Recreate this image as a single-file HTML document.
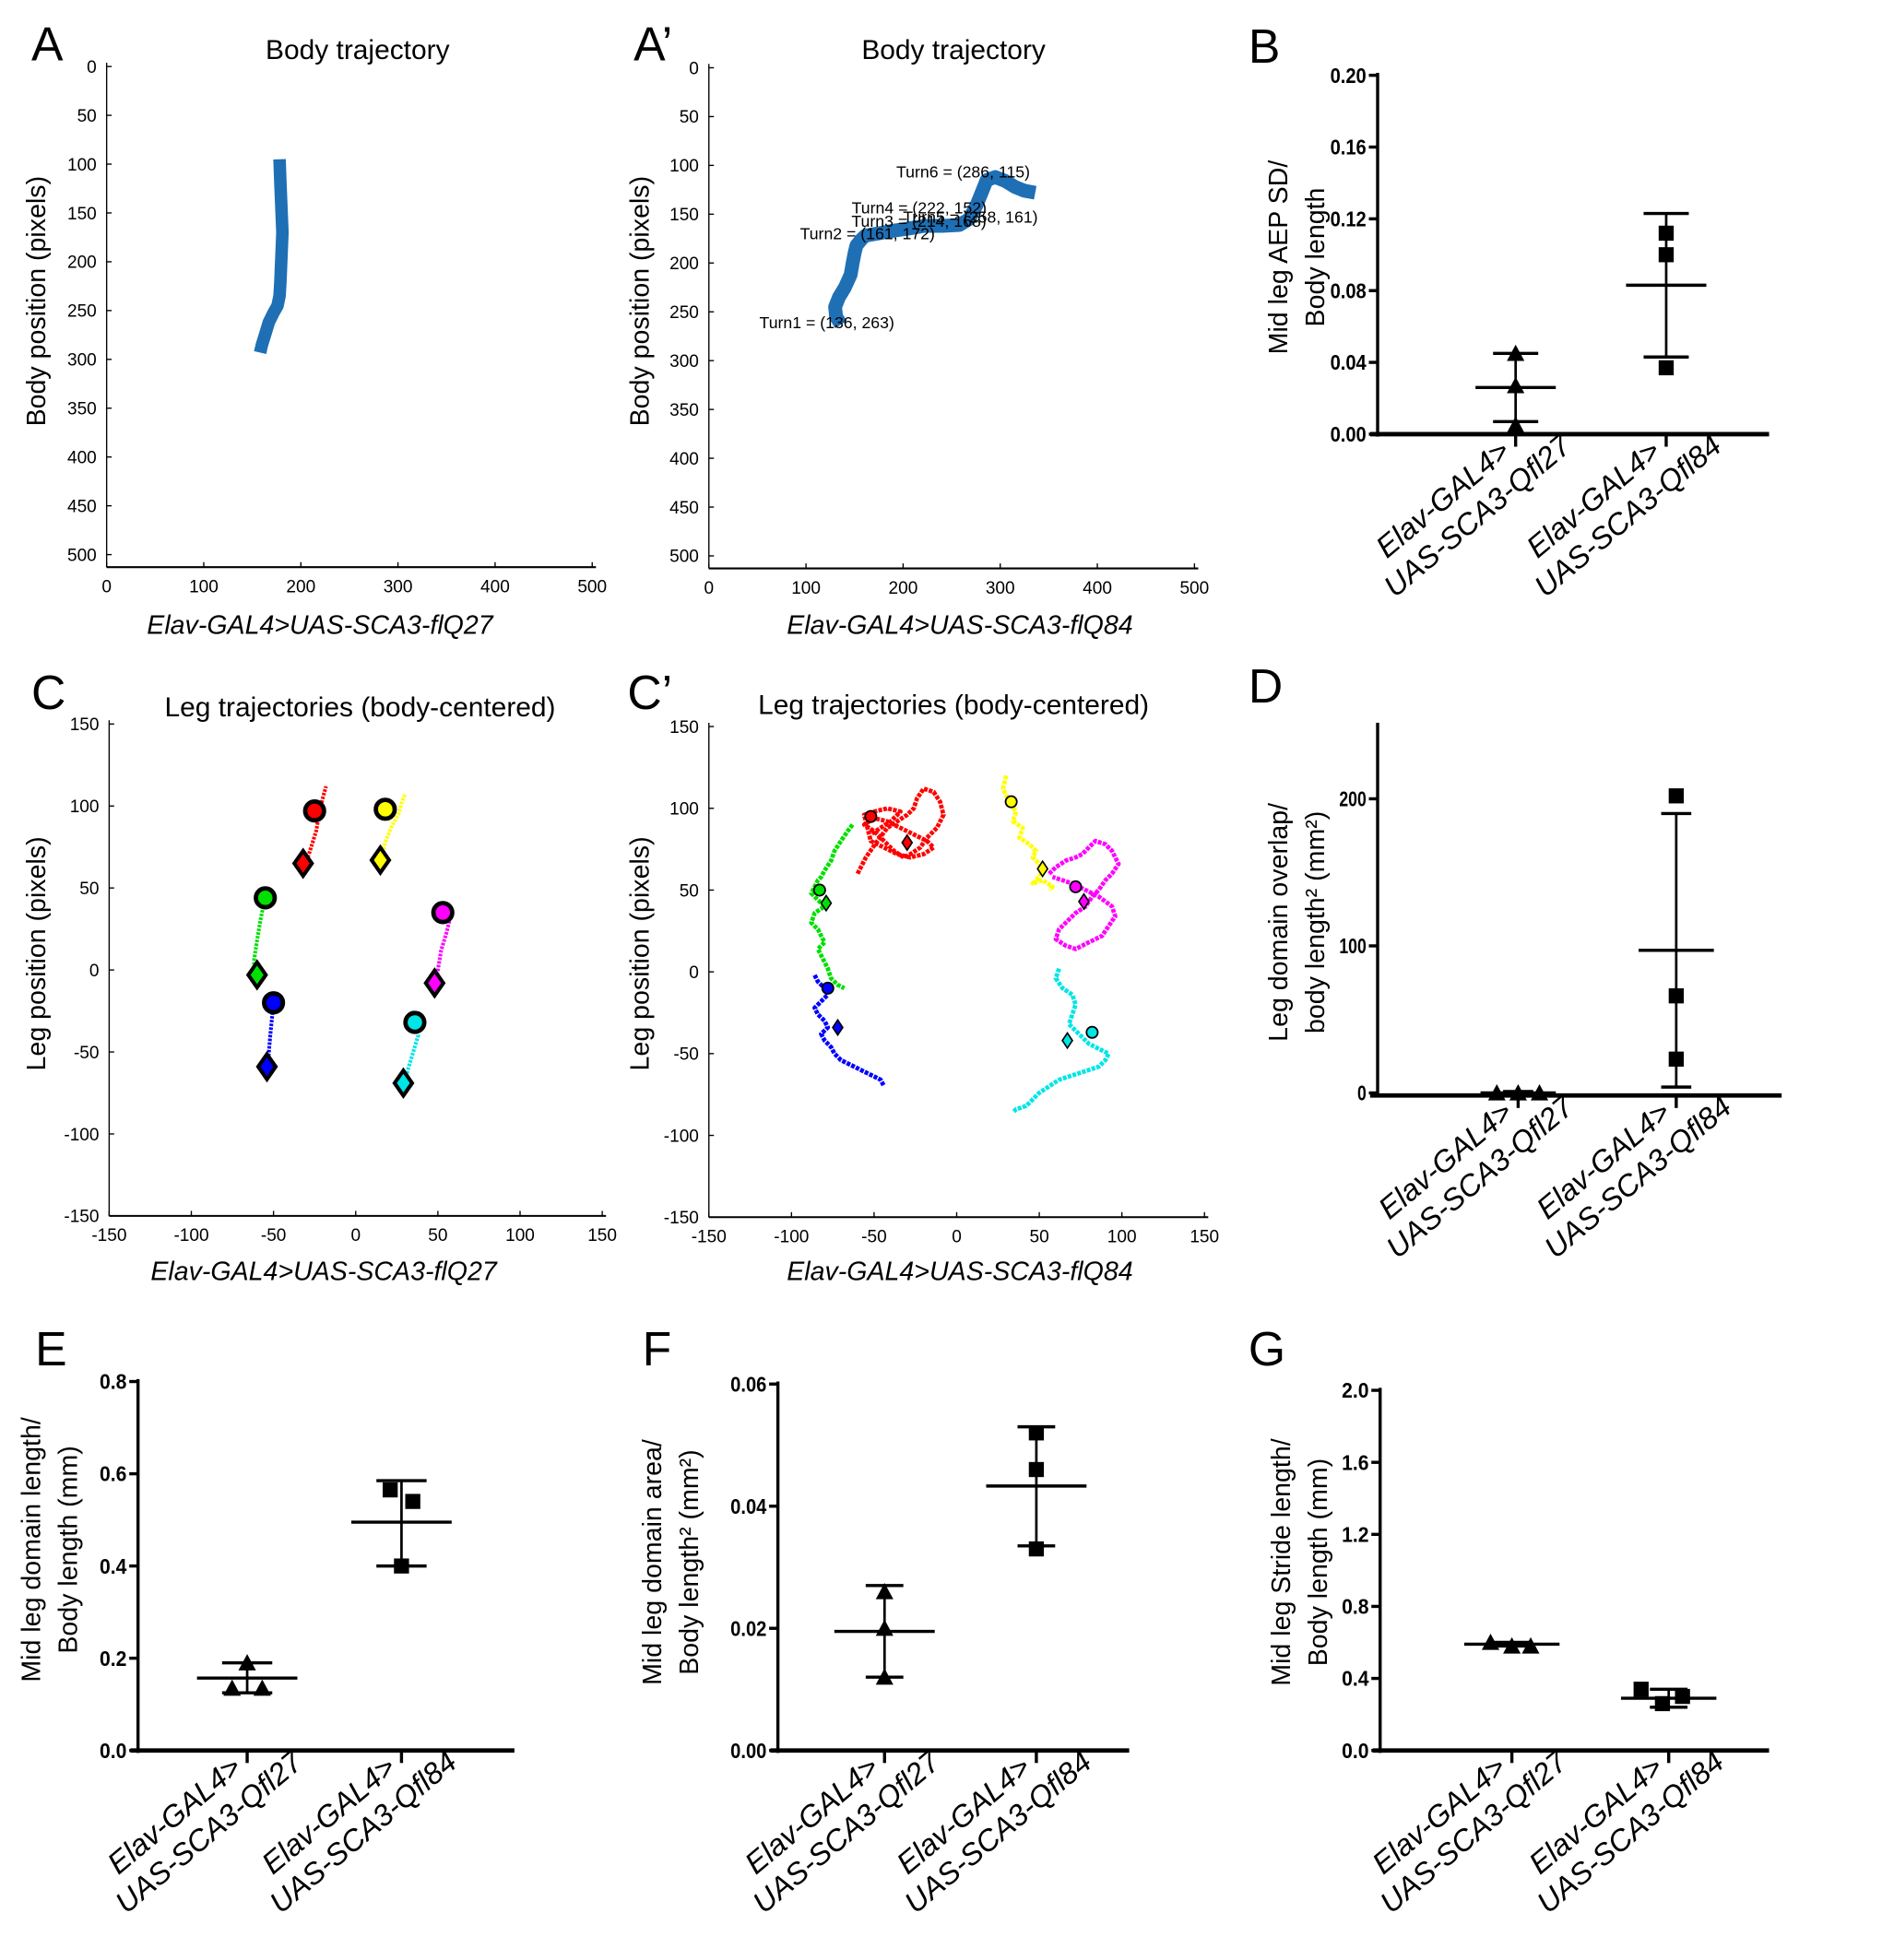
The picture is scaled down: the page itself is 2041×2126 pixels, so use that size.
<!DOCTYPE html>
<html><head><meta charset="utf-8">
<style>
html,body{margin:0;padding:0;background:#fff;}
svg{display:block;font-family:"Liberation Sans",sans-serif;}
.n{font-family:"Liberation Sans Narrow","Liberation Sans",sans-serif;}
</style></head>
<body>
<svg id="fig" width="2041" height="2126" viewBox="0 0 1500 1562" preserveAspectRatio="none"></svg>
<script>
// ---------- data ----------
const bodyTrajA_x = [178,179,180,181,180,179,178,176,172,167,163,160,158];
const bodyTrajA_y = [95,120,145,170,195,220,235,245,252,262,275,285,293];
const bodyTrajB_x = [136,131,130,134,140,146,148,150,152,157,161,172,190,210,222,240,258,268,276,282,286,295,305,315,325,336];
const bodyTrajB_y = [263,255,245,235,225,212,200,190,182,176,172,170,167,164,162,162,161,155,140,125,115,112,116,122,126,128];
const turnLabels = ["Turn1 = (136, 263)","Turn2 = (161, 172)","Turn3 = (214, 168)","Turn4 = (222, 152)","Turn5 = (258, 161)","Turn6 = (286, 115)"];
const turnX = [136,161,214,222,258,286];
const turnY = [263,172,168,152,161,115];
const legColors = ["#ff0000","#ffff00","#00e000","#ff00ff","#0000ff","#00e5e5"];
const cCircX = [-25,18,-55,53,-50,36];
const cCircY = [97,98,44,35,-20,-32];
const cDiaX = [-32,15,-60,48,-54,29];
const cDiaY = [65,67,-3,-8,-59,-69];
const cTrajX = [[-32,-28,-24,-22,-20,-18],[15,18,22,26,28,30],[-60,-62,-60,-58,-56,-55,-57],[48,50,52,55,57,55],[-54,-53,-52,-51,-50,-50],[29,32,35,38,36,34]];
const cTrajY = [[60,72,85,97,105,112],[67,78,88,95,102,107],[-8,5,18,30,40,48,50],[-12,0,12,22,30,38],[-64,-52,-40,-30,-20,-14],[-72,-60,-50,-40,-32,-25]];
const dCircX = [-52,33,-83,72,-78,82];
const dCircY = [95,104,50,52,-10,-37];
const dDiaX = [-30,52,-79,77,-72,67];
const dDiaY = [79,63,42,43,-34,-42];
const dTrajX = [
 [-60,-55,-48,-42,-36,-30,-26,-24,-20,-14,-10,-8,-12,-18,-22,-28,-32,-38,-44,-50,-56,-50,-42,-34,-26,-18,-14,-20,-28,-36,-44,-52,-56,-50,-42,-34,-40,-46,-52],
 [30,28,32,36,34,40,38,44,48,46,50,52,50,46,52,58,56],
 [-63,-66,-70,-74,-76,-80,-82,-84,-86,-88,-84,-80,-86,-88,-84,-82,-80,-84,-82,-80,-78,-76,-72,-68],
 [56,60,66,72,76,80,84,90,94,96,98,94,90,86,82,78,72,66,62,60,66,72,80,88,92,96,94,86,78,70,64,58],
 [-86,-84,-80,-78,-82,-86,-84,-80,-78,-82,-80,-76,-74,-70,-66,-62,-58,-54,-50,-46,-44],
 [62,60,64,70,72,70,68,72,76,80,84,88,92,90,86,80,74,68,62,56,50,46,42,36,34]
];
const dTrajY = [
 [60,70,80,88,92,96,100,106,112,110,104,96,88,82,76,72,70,74,80,86,90,94,92,88,84,80,76,72,70,72,76,80,96,98,100,98,92,88,84],
 [120,112,104,98,92,88,82,78,74,70,66,62,58,54,56,52,50],
 [90,86,80,74,68,62,58,56,52,48,44,40,36,30,26,22,18,14,10,6,2,-4,-8,-10],
 [60,64,68,70,72,76,80,78,74,70,66,60,56,50,46,40,36,30,26,20,16,14,18,22,28,34,40,46,50,54,56,58],
 [-2,-6,-10,-14,-18,-22,-26,-30,-34,-38,-42,-46,-50,-54,-56,-58,-60,-62,-64,-66,-70],
 [2,-4,-10,-14,-20,-26,-32,-36,-40,-44,-46,-48,-50,-54,-58,-60,-62,-64,-66,-70,-74,-78,-82,-84,-86]
];
const catLabels1 = ["Elav-GAL4>","Elav-GAL4>"];
const catLabels2 = ["UAS-SCA3-Qfl27","UAS-SCA3-Qfl84"];
const bTicks = ["0.00","0.04","0.08","0.12","0.16","0.20"];
const bQ27 = [0.045,0.027,0.005]; const bQ84 = [0.112,0.100,0.037];
const bMean = [0.026,0.083]; const bLo = [0.007,0.043]; const bHi = [0.045,0.123];
const dTicks = ["0","100","200"];
const dQ27 = [0,0,0]; const dQ84 = [202,66,23];
const dMean = [0,97]; const dLo = [0,4]; const dHi = [1,190];
const eTicks = ["0.0","0.2","0.4","0.6","0.8"];
const eQ27 = [0.19,0.135,0.135]; const eQ84 = [0.565,0.54,0.40];
const eMean = [0.157,0.495]; const eLo = [0.125,0.40]; const eHi = [0.19,0.585];
const fTicks = ["0.00","0.02","0.04","0.06"];
const fQ27 = [0.026,0.020,0.012]; const fQ84 = [0.052,0.046,0.033];
const fMean = [0.0195,0.0433]; const fLo = [0.012,0.0335]; const fHi = [0.027,0.053];
const gTicks = ["0.0","0.4","0.8","1.2","1.6","2.0"];
const gQ27 = [0.60,0.58,0.58]; const gQ84 = [0.34,0.26,0.30];
const gMean = [0.59,0.29]; const gLo = [0.58,0.24]; const gHi = [0.60,0.34];

// ---------- helpers ----------
const NS="http://www.w3.org/2000/svg";
const svg=document.getElementById('fig');
function el(tag,attrs,parent,txt){const e=document.createElementNS(NS,tag);for(const k in attrs)e.setAttribute(k,attrs[k]);if(txt!==undefined)e.textContent=txt;(parent||svg).appendChild(e);return e;}
function txt(x,y,s,size,opts,name){const o=Object.assign({x:x,y:y,'font-size':size},opts||{});const t=el('text',o,svg,s);


return t;}
function vtitle(cx,cy,lines,size){const g=el('g',{transform:`translate(${cx},${cy}) rotate(-90)`});


lines.forEach((l,i)=>{el('text',{x:0,y:i*(size*1.4),'font-size':size,'text-anchor':'middle'},g,l);});}

function trajPanel(o){
  const sx=v=>o.x0+(v-o.xmin)/(o.xmax-o.xmin)*(o.x1-o.x0);
  const sy=v=>o.yTop+(v-o.ymin)/(o.ymax-o.ymin)*(o.yBot-o.yTop);
  el('line',{x1:o.x0,y1:o.yTop-3,x2:o.x0,y2:o.axY,stroke:'#000','stroke-width':1});
  el('line',{x1:o.x0,y1:o.axY,x2:o.x1+3,y2:o.axY,stroke:'#000','stroke-width':1.5});
  o.yt.forEach(v=>{el('line',{x1:o.x0,y1:sy(v),x2:o.x0+4,y2:sy(v),stroke:'#000'});
    txt(o.x0-8,sy(v)+5,v,o.fs,{'text-anchor':'end',class:'n'},'y-tick-label');});
  o.xt.forEach(v=>{el('line',{x1:sx(v),y1:o.axY,x2:sx(v),y2:o.axY-4,stroke:'#000'});
    txt(sx(v),o.axY+20,v,o.fs,{'text-anchor':'middle',class:'n'},'x-tick-label');});
  return {sx,sy};
}
function poly(xs,ys,sx,sy,attrs,name){const p=xs.map((x,i)=>sx(x).toFixed(1)+','+sy(ys[i]).toFixed(1)).join(' ');
 const e=el('polyline',Object.assign({points:p,fill:'none'},attrs));
 
 return e;}

// Panel A
txt(25,48,'A',38,{},'panel-label-a');
txt(285,47,'Body trajectory',22,{'text-anchor':'middle'},'title-a');
let A=trajPanel({x0:85,x1:472,xmin:0,xmax:500,yTop:53,yBot:442,ymin:0,ymax:500,axY:452,yt:[0,50,100,150,200,250,300,350,400,450,500],xt:[0,100,200,300,400,500],fs:14});
poly(bodyTrajA_x,bodyTrajA_y,A.sx,A.sy,{stroke:'#1f6fb5','stroke-width':10,'stroke-linejoin':'round'},'body-trajectory-q27');
vtitle(36,240,['Body position (pixels)'],21);
txt(255,505,'Elav-GAL4>UAS-SCA3-flQ27',21,{'text-anchor':'middle','font-style':'italic'},'x-axis-title-a');

// Panel A'
txt(505,48,'A’',38,{},'panel-label-a-prime');
txt(760,47,'Body trajectory',22,{'text-anchor':'middle'},'title-a-prime');
let A2=trajPanel({x0:565,x1:952,xmin:0,xmax:500,yTop:54,yBot:443,ymin:0,ymax:500,axY:453,yt:[0,50,100,150,200,250,300,350,400,450,500],xt:[0,100,200,300,400,500],fs:14});
poly(bodyTrajB_x,bodyTrajB_y,A2.sx,A2.sy,{stroke:'#1f6fb5','stroke-width':11,'stroke-linejoin':'round'},'body-trajectory-q84');
const toff=[[-55,3],[-42,3],[-42,-4],[-48,-2],[-35,-2],[-62,-2]];
turnLabels.forEach((s,i)=>{txt(A2.sx(turnX[i])+toff[i][0]-10,A2.sy(turnY[i])+toff[i][1],s,13,{class:'n'},'turn-label');});
vtitle(517,240,['Body position (pixels)'],21);
txt(765,505,'Elav-GAL4>UAS-SCA3-flQ84',21,{'text-anchor':'middle','font-style':'italic'},'x-axis-title-a-prime');

// Panel C
txt(25,565,'C',38,{},'panel-label-c');
txt(287,571,'Leg trajectories (body-centered)',22,{'text-anchor':'middle'},'title-c');
let C=trajPanel({x0:87,x1:480,xmin:-150,xmax:150,yTop:577,yBot:969,ymin:150,ymax:-150,axY:969,yt:[150,100,50,0,-50,-100,-150],xt:[-150,-100,-50,0,50,100,150],fs:14});
legColors.forEach((c,i)=>{
  poly(cTrajX[i],cTrajY[i],C.sx,C.sy,{stroke:c,'stroke-width':3,'stroke-dasharray':'2 1'},'leg-trajectory');
  const ci=el('circle',{cx:C.sx(cCircX[i]),cy:C.sy(cCircY[i]),r:7.5,fill:c,stroke:'#000','stroke-width':3.5});
  
  
  const dx=C.sx(cDiaX[i]),dy=C.sy(cDiaY[i]);
  const di=el('polygon',{points:`${dx},${dy-10} ${dx+7},${dy} ${dx},${dy+10} ${dx-7},${dy}`,fill:c,stroke:'#000','stroke-width':3});
  
  
});
vtitle(36,760,['Leg position (pixels)'],21);
txt(258,1020,'Elav-GAL4>UAS-SCA3-flQ27',21,{'text-anchor':'middle','font-style':'italic'},'x-axis-title-c');

// Panel C'
txt(500,565,'C’',38,{},'panel-label-c-prime');
txt(760,569,'Leg trajectories (body-centered)',22,{'text-anchor':'middle'},'title-c-prime');
let D=trajPanel({x0:565,x1:960,xmin:-150,xmax:150,yTop:579,yBot:970,ymin:150,ymax:-150,axY:970,yt:[150,100,50,0,-50,-100,-150],xt:[-150,-100,-50,0,50,100,150],fs:14});
legColors.forEach((c,i)=>{
  poly(dTrajX[i],dTrajY[i],D.sx,D.sy,{stroke:c,'stroke-width':3.5,'stroke-dasharray':'3 1','stroke-linejoin':'round'},'leg-trajectory');
  const ci=el('circle',{cx:D.sx(dCircX[i]),cy:D.sy(dCircY[i]),r:4.5,fill:c,stroke:'#000','stroke-width':1.3});
  
  
  const dx=D.sx(dDiaX[i]),dy=D.sy(dDiaY[i]);
  const di=el('polygon',{points:`${dx},${dy-6} ${dx+4},${dy} ${dx},${dy+6} ${dx-4},${dy}`,fill:c,stroke:'#000','stroke-width':1.2});
  
  
});
vtitle(517,760,['Leg position (pixels)'],21);
txt(765,1020,'Elav-GAL4>UAS-SCA3-flQ84',21,{'text-anchor':'middle','font-style':'italic'},'x-axis-title-c-prime');

// ---------- scatter panels ----------
function scatter(o){
  const sy=v=>o.yBot-(v-o.vmin)/(o.vmax-o.vmin)*(o.yBot-o.yTop);
  txt(o.lx,o.ly,o.letter,38,{},'panel-label-'+o.letter.toLowerCase());
  el('line',{x1:o.ax,y1:o.yTop-2,x2:o.ax,y2:o.yBot+2,stroke:'#000','stroke-width':2.5});
  el('line',{x1:o.ax-6,y1:o.yBot+o.xo,x2:o.axEnd,y2:o.yBot+o.xo,stroke:'#000','stroke-width':3.5});
  o.ticks.forEach(t=>{const v=parseFloat(t);el('line',{x1:o.ax-7,y1:sy(v),x2:o.ax,y2:sy(v),stroke:'#000','stroke-width':2.5});
    txt(o.ax-9,sy(v)+6,t,17,{'text-anchor':'end','font-weight':'bold',textLength:t.length*7.2,lengthAdjust:'spacingAndGlyphs'},'y-tick-label');});
  o.cats.forEach((cx,i)=>{
    el('line',{x1:cx,y1:o.yBot+o.xo,x2:cx,y2:o.yBot+o.xo+10,stroke:'#000','stroke-width':2.5});
    const g=el('g',{transform:`translate(${cx-3},${o.yBot+o.xo+16}) rotate(-40)`});
    
    
    el('text',{x:0,y:0,'font-size':24,'font-style':'italic','text-anchor':'end'},g,catLabels1[i]);
    el('text',{x:40,y:28,'font-size':24,'font-style':'italic','text-anchor':'end'},g,catLabels2[i]);
    const m=el('line',{x1:cx-o.mw,y1:sy(o.mean[i]),x2:cx+o.mw,y2:sy(o.mean[i]),stroke:'#000','stroke-width':2.5});
    
    
    el('line',{x1:cx,y1:sy(o.lo[i]),x2:cx,y2:sy(o.hi[i]),stroke:'#000','stroke-width':2});
    [o.lo[i],o.hi[i]].forEach(v=>{const e=el('line',{x1:cx-o.ew,y1:sy(v),x2:cx+o.ew,y2:sy(v),stroke:'#000','stroke-width':2.5});
      
      });
    const vals=i===0?o.q27:o.q84; const offs=i===0?o.off27:o.off84;
    vals.forEach((v,j)=>{const px=cx+offs[j],py=sy(v);let m;
      if(i===0){m=el('polygon',{points:`${px},${py-7} ${px+7},${py+6} ${px-7},${py+6}`,fill:'#000'});
        }
      else{m=el('rect',{x:px-6,y:py-6,width:12,height:12,fill:'#000'});
        }
      });
  });
  vtitle(o.tx,o.ty,o.title,21);
}
scatter({letter:'B',lx:995,ly:50,ax:1098,axEnd:1410,yTop:60,yBot:346,xo:0,vmin:0,vmax:0.2,ticks:bTicks,cats:[1208,1328],q27:bQ27,q84:bQ84,off27:[0,0,0],off84:[0,0,0],mean:bMean,lo:bLo,hi:bHi,mw:32,ew:18,tx:1026,ty:205,title:['Mid leg AEP SD/','Body length']});
scatter({letter:'D',lx:995,ly:560,ax:1098,axEnd:1420,yTop:578,yBot:871,xo:2,vmin:0,vmax:250,ticks:dTicks,cats:[1210,1336],q27:dQ27,q84:dQ84,off27:[-17,0,17],off84:[0,0,0],mean:dMean,lo:dLo,hi:dHi,mw:30,ew:12,tx:1026,ty:735,title:['Leg domain overlap/','body length² (mm²)']});
scatter({letter:'E',lx:28,ly:1088,ax:110,axEnd:410,yTop:1101,yBot:1395,xo:0,vmin:0,vmax:0.8,ticks:eTicks,cats:[197,320],q27:eQ27,q84:eQ84,off27:[0,-12,12],off84:[-9,9,0],mean:eMean,lo:eLo,hi:eHi,mw:40,ew:20,tx:32,ty:1235,title:['Mid leg domain length/','Body length (mm)']});
scatter({letter:'F',lx:512,ly:1088,ax:620,axEnd:900,yTop:1103,yBot:1395,xo:0,vmin:0,vmax:0.06,ticks:fTicks,cats:[705,826],q27:fQ27,q84:fQ84,off27:[0,0,0],off84:[0,0,0],mean:fMean,lo:fLo,hi:fHi,mw:40,ew:15,tx:527,ty:1245,title:['Mid leg domain area/','Body length² (mm²)']});
scatter({letter:'G',lx:995,ly:1088,ax:1100,axEnd:1410,yTop:1108,yBot:1395,xo:0,vmin:0,vmax:2.0,ticks:gTicks,cats:[1205,1330],q27:gQ27,q84:gQ84,off27:[-17,0,15],off84:[-22,-5,11],mean:gMean,lo:gLo,hi:gHi,mw:38,ew:15,tx:1028,ty:1245,title:['Mid leg Stride length/','Body length (mm)']});
</script>
</body></html>
